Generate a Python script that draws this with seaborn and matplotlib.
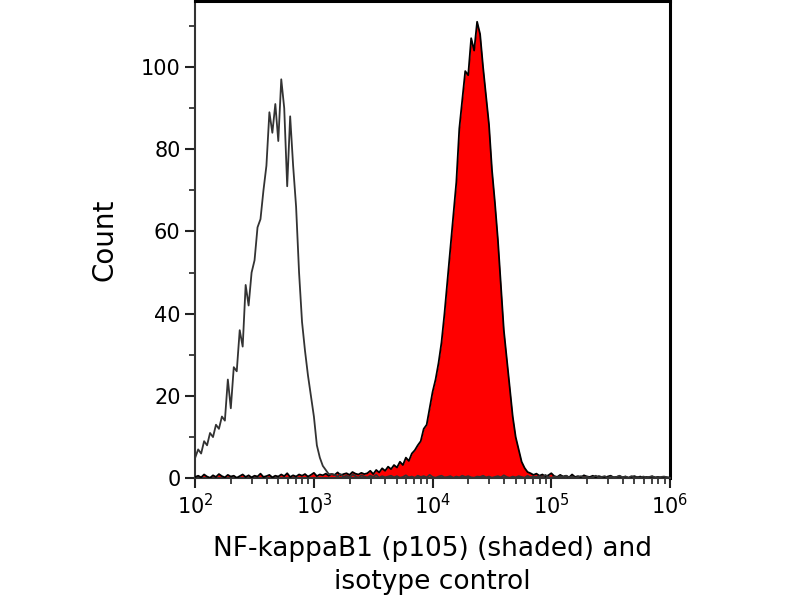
import numpy as np
import pandas as pd
import matplotlib
matplotlib.use("Agg")
import matplotlib.pyplot as plt
import seaborn as sns
from matplotlib.ticker import MultipleLocator, LogLocator, NullFormatter

# histogram counts, one value every 0.025 decade from 10^2 to 10^6
isotype_peak = [5, 7, 6, 9, 8, 11, 10, 13, 12, 15, 14, 24, 17, 27, 26, 36, 32, 47, 42, 50,
                53, 61, 63, 70, 76, 89, 84, 91, 82, 97, 90, 71, 88, 76, 66, 50, 38, 31, 25, 20,
                15, 8, 5, 3, 2, 1, 1]
isotype_tail = [0.8, 0.4, 1.0, 0.3, 0.6, 0.2, 0.9, 0.5, 0.1, 0.7,
                0.4, 0.2, 0.6, 0.3, 0.8, 0.1, 0.5, 0.2, 0.4, 0.6,
                0.2, 0.5, 0.1, 0.3, 0.7, 0.2, 0.4, 0.1, 0.6, 0.3,
                0.5, 0.2, 0.8, 0.3, 0.1, 0.4, 0.6, 0.2, 0.3, 0.5,
                0.1, 0.4, 0.2, 0.6, 0.3, 0.5, 0.2, 0.1, 0.4, 0.3,
                0.6, 0.2, 0.4, 0.1, 0.3, 0.5, 0.2, 0.7, 0.3, 0.1,
                0.4, 0.2, 0.5, 0.3, 0.1, 0.6, 0.2, 0.4, 0.3, 0.5,
                0.2, 0.8, 0.3, 0.1, 0.4, 0.2, 0.5, 0.3, 0.6, 0.2,
                0.4, 0.1, 0.3, 0.5, 0.2, 0.4, 0.1, 0.3, 0.6, 0.2,
                0.3, 0.5, 0.1, 0.4, 0.2, 0.3, 0.6, 0.2, 0.4, 0.1,
                0.5, 0.2, 0.3, 0.1, 0.4, 0.2, 0.3, 0.5, 0.1, 0.2,
                0.3, 0.4, 0.2, 0.1]

nfkb_head = [0.3, 0.6, 0.2, 0.9, 0.4, 0.1, 0.7, 0.3, 1.0, 0.5,
             0.2, 0.8, 0.4, 0.6, 0.1, 0.5, 0.9, 0.3, 0.7, 0.2,
             0.6, 0.4, 1.1, 0.3, 0.5, 0.8, 0.2, 0.6, 0.4, 0.9,
             0.5, 1.2, 0.3, 0.7, 0.4, 0.9, 0.6, 1.0, 0.4, 0.8,
             1.3, 0.5, 0.9, 0.7, 1.1, 0.6, 1.0, 0.8, 1.4, 0.7,
             1.0, 1.2, 0.8, 1.5, 1.1, 0.9, 1.3, 1.0]
nfkb_peak = [1.2, 1.8, 1.0, 2.0, 1.4, 2.4, 1.8, 2.8, 2.2, 3.2,
             2.6, 4.0, 3.2, 5.0, 4.2, 6.0, 6.8, 8.0, 9.0, 12,
             13, 17, 21, 24, 28, 33, 40, 48, 56, 64,
             72, 85, 92, 99, 98, 107, 104, 111, 108, 100,
             93, 86, 75, 67, 58, 47, 36, 29, 22, 15,
             10, 7, 4, 2.5, 1.5, 1.2]
nfkb_tail = [0.8, 1.1, 0.6, 0.9, 0.4, 0.7, 1.2, 0.5, 0.3, 0.8,
             0.4, 0.6, 0.2, 0.9, 0.3, 0.5, 0.2, 0.7, 0.4, 0.3,
             0.6, 0.2, 0.5, 0.3, 0.1, 0.4, 0.6, 0.2, 0.3, 0.5,
             0.2, 0.4, 0.1, 0.3, 0.5, 0.2, 0.4, 0.1, 0.3, 0.2,
             0.4, 0.2, 0.3, 0.1, 0.3, 0.2, 0.1]

isotype = isotype_peak + isotype_tail
nfkb = nfkb_head + nfkb_peak + nfkb_tail
assert len(isotype) == len(nfkb) == 161

# channel grid (bin positions), 10^2 .. 10^6
intensity = 10 ** np.linspace(2, 6, len(nfkb))
df = pd.DataFrame({"intensity": intensity, "isotype": isotype, "nfkb": nfkb})

sns.set_style("ticks")
plt.rcParams['font.family'] = ['DejaVu Sans']

fig = plt.figure(figsize=(8, 6), dpi=100)
ax = fig.add_axes([0.244, 0.203, 0.5935, 0.795])

# shaded sample
ax.fill_between(df["intensity"], 0, df["nfkb"], color="#ff0000", linewidth=0, zorder=2)
sns.lineplot(data=df, x="intensity", y="nfkb", color="black", linewidth=1.3, ax=ax, zorder=3)
# isotype control
sns.lineplot(data=df, x="intensity", y="isotype", color="#333333", linewidth=1.3, ax=ax, zorder=4)

ax.set_xscale("log")
ax.set_xlim(1e2, 1e6)
ax.set_ylim(0, 116)

ax.yaxis.set_major_locator(MultipleLocator(20))
ax.yaxis.set_minor_locator(MultipleLocator(10))
ax.xaxis.set_major_locator(LogLocator(base=10, numticks=10))
ax.xaxis.set_minor_locator(LogLocator(base=10, subs=np.arange(2, 10), numticks=50))
ax.xaxis.set_minor_formatter(NullFormatter())

ax.tick_params(axis="both", which="major", direction="out", length=7, width=1.5,
               color="#222222", labelsize=15, labelcolor="black")
ax.tick_params(axis="both", which="minor", direction="out", length=4, width=1.2, color="#222222")

for side in ["left", "bottom"]:
    ax.spines[side].set_linewidth(1.5)
    ax.spines[side].set_color("#333333")
for side in ["top", "right"]:
    ax.spines[side].set_visible(True)
    ax.spines[side].set_linewidth(2.2)
    ax.spines[side].set_color("black")

ax.set_xlabel("NF-kappaB1 (p105) (shaded) and\nisotype control", fontsize=19, labelpad=13,
              linespacing=1.35, color="black")
ax.set_ylabel("Count", fontsize=20, labelpad=16, color="black")

plt.savefig("out.png", dpi=100)
